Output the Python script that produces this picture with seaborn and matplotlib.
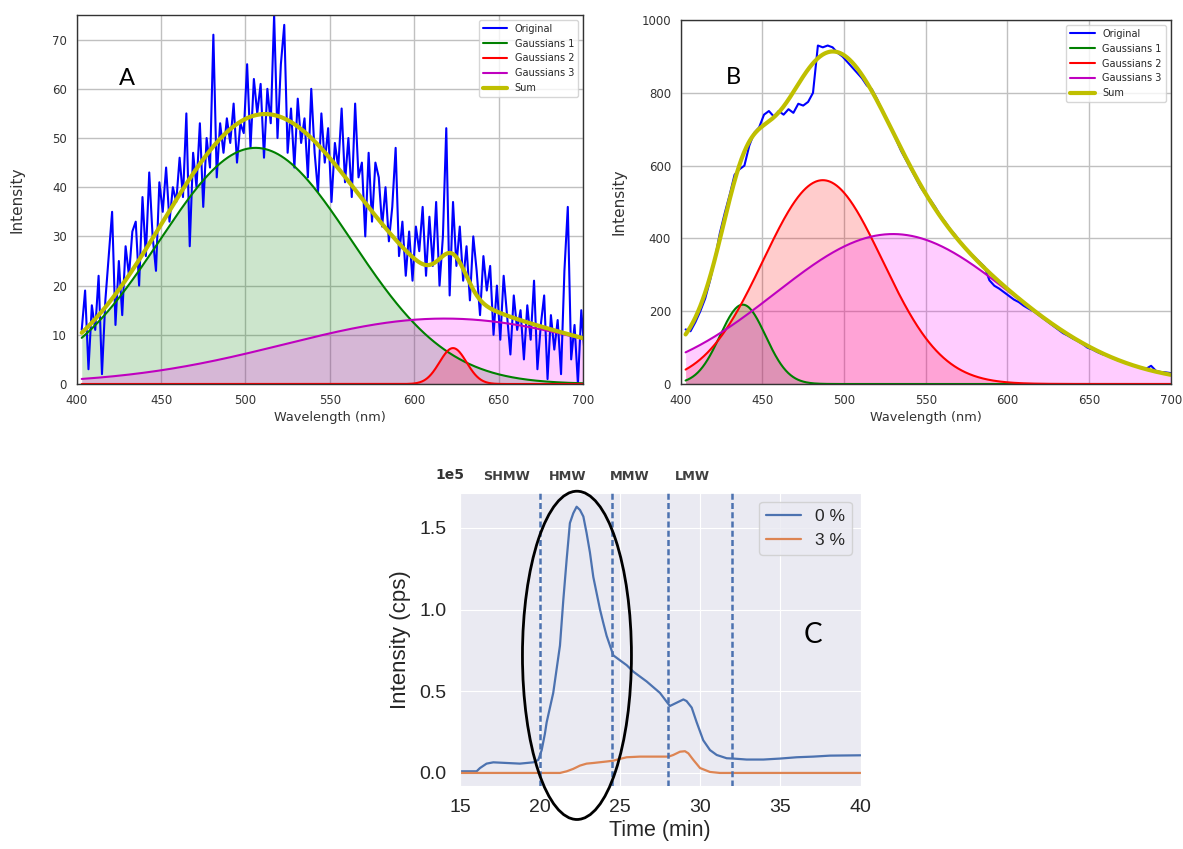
import numpy as np
import pandas as pd
import matplotlib
matplotlib.use("Agg")
import matplotlib.pyplot as plt
import matplotlib.transforms as mtransforms
from matplotlib.patches import Ellipse
import seaborn as sns

# ---------------- Panel A data ----------------
wl_a = np.arange(403, 702, 2)
orig_a = [11, 19, 3, 16, 11, 22, 2, 17, 26, 35,
          12, 25, 14, 28, 22, 31, 33, 20, 38, 26,
          43, 30, 23, 41, 35, 44, 33, 40, 37, 46,
          38, 55, 28, 47, 40, 53, 36, 50, 44, 71,
          42, 53, 47, 54, 49, 57, 45, 53, 51, 65,
          48, 62, 55, 61, 46, 60, 53, 75, 50, 65,
          73, 47, 56, 44, 58, 49, 54, 42, 60, 47,
          39, 55, 45, 52, 37, 49, 44, 56, 41, 50,
          38, 57, 42, 45, 30, 47, 33, 45, 42, 32,
          40, 29, 36, 48, 26, 33, 22, 31, 21, 32,
          27, 36, 22, 34, 24, 37, 20, 30, 52, 18,
          37, 24, 32, 21, 28, 17, 30, 23, 14, 26,
          19, 24, 10, 20, 9, 22, 14, 6, 18, 11,
          15, 5, 16, 9, 21, 3, 12, 18, 1, 14,
          7, 13, 2, 23, 36, 5, 12, 0, 15, 6]
gauss_a_center = [506, 623, 618]
gauss_a_amp = [48.0, 7.3, 13.3]
gauss_a_sigma = [57.0, 8.0, 95.0]

# ---------------- Panel B data ----------------
wl_b = np.arange(403, 701, 3)
orig_b = [150, 145, 170, 200, 235, 285, 345, 415, 470, 520,
          575, 590, 600, 655, 690, 705, 740, 750, 735, 750,
          740, 755, 745, 770, 765, 775, 800, 930, 925, 930,
          925, 910, 900, 885, 870, 855, 840, 820, 810, 785,
          755, 730, 700, 670, 640, 615, 590, 565, 540, 520,
          505, 485, 462, 445, 425, 410, 392, 375, 360, 348,
          335, 322, 285, 270, 262, 252, 242, 232, 225, 215,
          207, 200, 190, 180, 170, 160, 150, 140, 133, 125,
          118, 110, 100, 95, 88, 82, 78, 72, 66, 62,
          57, 53, 48, 45, 42, 50, 36, 33, 32, 30]
gauss_b_center = [438, 487, 530]
gauss_b_amp = [218.0, 560.0, 412.0]
gauss_b_sigma = [14.0, 36.5, 72.0]

legend_labels = ["Original", "Gaussians 1", "Gaussians 2", "Gaussians 3", "Sum"]
wl_ticks = [400, 450, 500, 550, 600, 650, 700]
a_yticks = [0, 10, 20, 30, 40, 50, 60, 70]
b_yticks = [0, 200, 400, 600, 800, 1000]

# ---------------- Panel C data ----------------
time_0 = [15.0, 16.04, 16.25, 16.66, 17.08, 17.91, 18.74, 19.58, 19.89, 20.10,
          20.30, 20.41, 20.82, 21.24, 21.45, 21.66, 21.86, 22.07, 22.28, 22.49,
          22.70, 22.90, 23.11, 23.32, 23.53, 23.74, 23.94, 24.15, 24.36, 24.57,
          24.98, 25.40, 25.82, 26.65, 27.48, 28.02, 28.10, 28.52, 28.94, 29.14,
          29.46, 29.77, 30.18, 30.60, 31.02, 31.64, 32.06, 32.89, 33.93, 34.97,
          36.01, 37.05, 38.09, 40.0]
inten_0 = [0.01, 0.01, 0.03, 0.057, 0.065, 0.061, 0.057, 0.065, 0.08, 0.14,
           0.24, 0.31, 0.49, 0.78, 1.06, 1.31, 1.53, 1.59, 1.63, 1.61,
           1.57, 1.47, 1.35, 1.20, 1.10, 1.00, 0.92, 0.84, 0.78, 0.72,
           0.69, 0.66, 0.62, 0.56, 0.49, 0.42, 0.41, 0.43, 0.45, 0.44,
           0.40, 0.31, 0.20, 0.14, 0.11, 0.09, 0.088, 0.082, 0.082, 0.088,
           0.096, 0.10, 0.106, 0.108]
time_3 = [15.0, 21.24, 21.66, 22.07, 22.49, 22.90, 23.32, 24.15, 24.57, 24.98,
          25.40, 26.23, 27.06, 28.02, 28.31, 28.73, 29.04, 29.25, 29.56, 29.98,
          30.60, 31.22, 40.0]
inten_3 = [0.0, 0.0, 0.01, 0.025, 0.045, 0.057, 0.061, 0.07, 0.075, 0.086,
           0.096, 0.10, 0.10, 0.10, 0.11, 0.13, 0.133, 0.12, 0.08, 0.03,
           0.006, 0.0, 0.0]
series_labels = ["0 %", "3 %"]
fraction_bounds = [20, 24.5, 28, 32]
fraction_names = ["SHMW", "HMW", "MMW", "LMW"]
fraction_label_x = [17.9, 21.7, 25.6, 29.5]
c_xticks = [15, 20, 25, 30, 35, 40]
c_yticks = [0.0, 0.5e5, 1.0e5, 1.5e5]

plt.rcParams["font.family"] = ["DejaVu Sans"]

fig = plt.figure(figsize=(11.83, 8.49), dpi=100)


def spectral_panel(ax, wl, orig, centers, amps, sigmas, ylim, yticks,
                   letter, letter_xy, labelpad):
    xfit = np.linspace(403, 700, 800)
    comps = [a * np.exp(-0.5 * ((xfit - c) / s) ** 2)
             for c, a, s in zip(centers, amps, sigmas)]
    total = np.sum(comps, axis=0)
    line_cols = ["g", "r", "m"]
    fill_cols = ["g", "r", "#ff00ff"]
    for comp, col in zip(comps, fill_cols):
        ax.fill_between(xfit, 0, comp, color=col, alpha=0.2, lw=0)
    sns.lineplot(x=wl, y=np.asarray(orig, dtype=float), ax=ax, color="b",
                 lw=1.5, label=legend_labels[0])
    for comp, col, lab in zip(comps, line_cols, legend_labels[1:4]):
        sns.lineplot(x=xfit, y=comp, ax=ax, color=col, lw=1.5, label=lab)
    sns.lineplot(x=xfit, y=total, ax=ax, color="y", lw=3, label=legend_labels[4])
    ax.set_xlim(400, 700)
    ax.set_ylim(*ylim)
    ax.set_xticks(wl_ticks)
    ax.set_yticks(yticks)
    ax.set_facecolor("white")
    ax.grid(True, color="#c0c0c0", lw=1)
    for sp in ax.spines.values():
        sp.set_visible(True)
        sp.set_color("#333333")
        sp.set_linewidth(1)
    ax.tick_params(direction="out", length=3.5, width=0.8, colors="#333333",
                   labelsize=8.5)
    ax.set_xlabel("Wavelength (nm)", fontsize=9.3, color="#333333", labelpad=3)
    ax.set_ylabel("Intensity", fontsize=11, color="#333333", labelpad=labelpad)
    ax.legend(loc="upper right", fontsize=7, handlelength=2.5, framealpha=0.8,
              edgecolor="#cccccc")
    ax.text(letter_xy[0], letter_xy[1], letter, fontsize=17, family="Lato",
            ha="center", va="center", color="black")


with sns.axes_style("white"):
    axA = fig.add_axes([0.0648, 0.5477, 0.4280, 0.4346])
    spectral_panel(axA, wl_a, orig_a, gauss_a_center, gauss_a_amp, gauss_a_sigma,
                   (0, 75), a_yticks, "A", (430, 62), 20)
    axB = fig.add_axes([0.5754, 0.5477, 0.4142, 0.4287])
    spectral_panel(axB, wl_b, orig_b, gauss_b_center, gauss_b_amp, gauss_b_sigma,
                   (0, 1000), b_yticks, "B", (432, 843), 11)

CF = "Liberation Sans"
deep = sns.color_palette("deep")
with sns.axes_style("darkgrid"):
    axC = fig.add_axes([0.3888, 0.0742, 0.3387, 0.3451])
    sns.lineplot(x=time_0, y=np.asarray(inten_0) * 1e5, ax=axC, color=deep[0],
                 lw=1.6, label=series_labels[0])
    sns.lineplot(x=time_3, y=np.asarray(inten_3) * 1e5, ax=axC, color=deep[1],
                 lw=1.6, label=series_labels[1])
    for xb in fraction_bounds:
        axC.axvline(xb, color=deep[0], lw=1.8, ls=(0, (2.4, 1.3)), zorder=3)
    axC.set_xlim(15, 40)
    axC.set_ylim(-0.08e5, 1.714e5)
    axC.set_xticks(c_xticks)
    axC.set_yticks(c_yticks)
    axC.ticklabel_format(axis="y", style="sci", scilimits=(0, 0))
    axC.tick_params(labelsize=14, labelcolor="#262626", labelfontfamily=CF, pad=6)
    axC.set_xlabel("Time (min)", fontsize=15.5, family=CF, color="#262626", labelpad=3)
    axC.set_ylabel("Intensity (cps)", fontsize=16, family=CF, color="#262626", labelpad=6)
    axC.yaxis.get_offset_text().set_visible(False)
    axC.text(-0.025, 1.061, "1e5", transform=axC.transAxes, ha="center",
             va="center", fontsize=10, fontweight="bold", color="#333333")
    leg = axC.legend(loc="upper right", prop={"family": CF, "size": 12.5},
                     handlelength=2.0, framealpha=0.8)
    trans = mtransforms.blended_transform_factory(axC.transData, axC.transAxes)
    for xl, name in zip(fraction_label_x, fraction_names):
        axC.text(xl, 1.055, name, transform=trans, ha="center", va="center",
                 fontsize=9.3, fontweight="bold", color="#404040")
    axC.add_patch(Ellipse((22.3, 0.72e5), width=6.8, height=2.01e5, fill=False,
                          ec="black", lw=2, clip_on=False, zorder=6))
    axC.text(37.0, 0.845e5, "C", fontsize=20, family="Lato", ha="center",
             va="center", color="black")

fig.savefig("out.png", dpi=100)
